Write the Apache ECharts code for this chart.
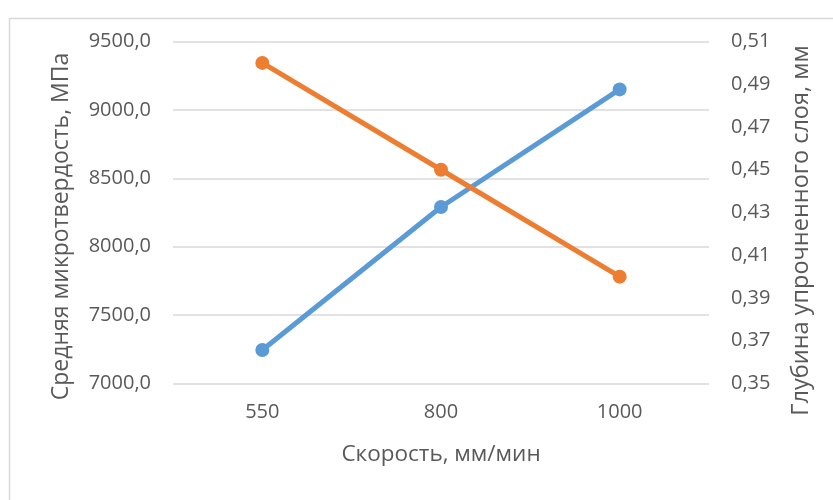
<!DOCTYPE html>
<html>
<head>
<meta charset="utf-8">
<script src="https://cdn.jsdelivr.net/npm/echarts@6/dist/echarts.min.js"></script>
<style>
  html, body { margin: 0; padding: 0; background: #ffffff; }
  #chart { width: 833px; height: 500px; }
</style>
</head>
<body>
<div id="chart"></div>
<script>
// Скорость обработки, мм/мин
const speeds = ['550', '800', '1000'];
// Средняя микротвердость, МПа
const hardness = [7245, 8290, 9150];
// Глубина упрочненного слоя, мм
const depth = [0.50, 0.45, 0.40];

const TEXT = '#595959';
const FONT = '"Open Sans", "Noto Sans", sans-serif';

const chart = echarts.init(document.getElementById('chart'), null, { renderer: 'canvas' });

chart.setOption({
  backgroundColor: '#ffffff',
  animation: false,
  graphic: [{
    type: 'rect',
    shape: { x: 9.5, y: 18.5, width: 900, height: 600 },
    style: { fill: 'none', stroke: '#d9d9d9', lineWidth: 1.5 },
    silent: true
  }],
  grid: { left: 173, right: 124, top: 41.5, bottom: 116.5 },
  xAxis: {
    type: 'category',
    data: speeds,
    boundaryGap: true,
    name: 'Скорость, мм/мин',
    nameLocation: 'middle',
    nameGap: 60,
    nameTextStyle: { color: TEXT, fontSize: 22.5, fontFamily: FONT },
    axisLine: { show: false },
    axisTick: { show: false },
    axisLabel: { color: TEXT, fontSize: 20, fontFamily: FONT, margin: 19 }
  },
  yAxis: [{
    type: 'value',
    min: 7000,
    max: 9500,
    interval: 500,
    name: 'Средняя микротвердость, МПа',
    nameLocation: 'middle',
    nameGap: 100,
    nameTextStyle: { color: TEXT, fontSize: 23, fontFamily: FONT, padding: [0, 28, 0, 0] },
    axisLine: { show: false },
    axisTick: { show: false },
    axisLabel: {
      color: TEXT, fontSize: 20, fontFamily: FONT, margin: 22,
      formatter: v => v.toFixed(1).replace('.', ',')
    },
    splitLine: { show: true, lineStyle: { color: '#d9d9d9', width: 1.5 } }
  }, {
    type: 'value',
    position: 'right',
    min: 0.35,
    max: 0.51,
    interval: 0.02,
    name: 'Глубина упрочненного слоя, мм',
    nameLocation: 'middle',
    nameGap: 80,
    nameRotate: 90,
    nameTextStyle: { color: TEXT, fontSize: 23.5, fontFamily: FONT, padding: [0, 36, 0, 0] },
    axisLine: { show: false },
    axisTick: { show: false },
    axisLabel: {
      color: TEXT, fontSize: 20, fontFamily: FONT, margin: 22,
      formatter: v => v.toFixed(2).replace('.', ',')
    },
    splitLine: { show: false }
  }],
  series: [{
    name: 'Средняя микротвердость, МПа',
    type: 'line',
    yAxisIndex: 0,
    data: hardness,
    symbol: 'circle',
    symbolSize: 14,
    lineStyle: { color: '#5b9bd5', width: 5 },
    itemStyle: { color: '#5b9bd5' }
  }, {
    name: 'Глубина упрочненного слоя, мм',
    type: 'line',
    yAxisIndex: 1,
    data: depth,
    symbol: 'circle',
    symbolSize: 14,
    lineStyle: { color: '#ed7d31', width: 5 },
    itemStyle: { color: '#ed7d31' }
  }]
});
</script>
</body>
</html>
